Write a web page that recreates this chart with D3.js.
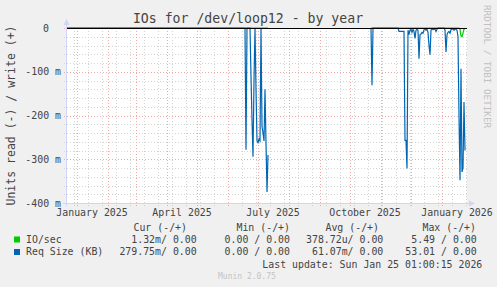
<!DOCTYPE html>
<html>
<head>
<meta charset="utf-8">
<script src="https://cdn.jsdelivr.net/npm/d3@7/dist/d3.min.js"></script>
<style>
body{margin:0;background:#f0f0f0;}
svg{display:block;}
text{font-family:"DejaVu Sans Mono",monospace;}
</style>
</head>
<body>
<svg width="497" height="287"></svg>
<script>
// daily samples (only where something changes), values in milli-units
var days = ["2024-12-22","2025-06-17","2025-06-18","2025-06-19","2025-06-20","2025-06-23","2025-06-24","2025-06-25",
  "2025-06-26","2025-06-27","2025-06-28","2025-06-29","2025-06-30","2025-07-01","2025-07-02","2025-07-03","2025-07-04",
  "2025-07-05","2025-07-06","2025-07-07","2025-07-08","2025-07-09","2025-07-10","2025-07-11","2025-07-12",
  "2025-10-22","2025-10-23","2025-10-24","2025-11-18","2025-11-19","2025-11-24","2025-11-25","2025-11-26","2025-11-27",
  "2025-11-28","2025-11-29","2025-11-30","2025-12-01","2025-12-02","2025-12-03","2025-12-04","2025-12-05","2025-12-06",
  "2025-12-07","2025-12-08","2025-12-09","2025-12-10","2025-12-11","2025-12-12","2025-12-13","2025-12-14","2025-12-15",
  "2025-12-16","2025-12-17","2025-12-18","2025-12-19","2025-12-20","2025-12-21","2025-12-22","2025-12-23","2025-12-24",
  "2025-12-25","2025-12-26","2025-12-27","2025-12-28","2026-01-03","2026-01-04","2026-01-05","2026-01-06","2026-01-07",
  "2026-01-08","2026-01-09","2026-01-10","2026-01-11","2026-01-12","2026-01-13","2026-01-14","2026-01-15","2026-01-16",
  "2026-01-17","2026-01-18","2026-01-19","2026-01-20","2026-01-21","2026-01-22","2026-01-23","2026-01-24"];
var reqSizeRead = [0,0,0,-278,0,0,-110,-210,
  -294,-120,0,-140,-258,-262,-254,-258,0,
  -225,-240,-258,-140,-262,-375,-290,null,
  0,-131,0,0,-7.5,-7.5,-257,-257,-321,
  -5,-15,-5,-3,-10,-3,-8,-24,-5,
  -3,-5,-70,-15,-14,-10,-12,-4,-2,
  -5,-3,-10,-40,-61,-5,-2,-4,-2,
  -3,-8,-3,0,0,-5,-55,-15,-10,
  -8,-12,-4,-3,-2,-5,-2,-3,-5,
  -20,-200,-348,-93,-329,-320,-169,-280];
var ioRead = [0,0,0,0,0,0,0,0,
  0,0,0,0,0,0,0,0,0,
  0,0,0,0,0,0,0,null,
  0,0,0,0,0,0,0,0,0,
  0,0,0,0,0,0,0,0,0,
  0,0,0,0,0,0,0,0,0,
  0,0,0,0,0,0,0,0,0,
  0,0,0,0,0,0,0,0,0,
  0,0,0,0,0,0,0,0,0,
  0,0,-3,-18,-20,-12,-3,0];

var yTicks = [0,-100,-200,-300,-400];
var monthLabels = ["2025-01-01","2025-04-01","2025-07-01","2025-10-01","2026-01-01"];

var seriesNames = ["IO/sec","Req Size (KB)"];
var legendHead = ["Cur (-/+)","Min (-/+)","Avg (-/+)","Max (-/+)"];
var curText = ["1.32m/ 0.00","279.75m/ 0.00"];
var minText = ["0.00 / 0.00","0.00 / 0.00"];
var avgText = ["378.72u/ 0.00","61.07m/ 0.00"];
var maxText = ["5.49 / 0.00","53.01 / 0.00"];

var svg = d3.select("svg");
var parse = d3.utcParse("%Y-%m-%d");
var plot = {left:67,right:467,top:28,bottom:203};
var colors = ["#00cc00","#0066b3"];

var x = d3.scaleUtc()
  .domain([parse("2024-12-22"), parse("2026-01-26")])
  .range([plot.left, plot.right]);
var y = d3.scaleLinear()
  .domain([-400, 0])
  .range([plot.bottom, plot.top]);

// canvas
svg.append("rect").attr("x",plot.left).attr("y",plot.top)
  .attr("width",plot.right-plot.left).attr("height",plot.bottom-plot.top+1)
  .attr("fill","#fff");

var grid = svg.append("g").attr("shape-rendering","crispEdges");

// minor horizontal every 20m
d3.range(-400, 1, 20).forEach(function(v){
  if (v % 100 === 0) return;
  grid.append("line").attr("x1",plot.left-3).attr("x2",plot.right)
    .attr("y1",Math.round(y(v))+0.5).attr("y2",Math.round(y(v))+0.5)
    .attr("stroke","#d4d4d4").attr("stroke-dasharray","1,2");
});
// minor vertical, every other sunday
d3.utcSunday.range(x.domain()[0], x.domain()[1]).forEach(function(d,i){
  if (i % 2 !== 1) return;
  var px = Math.round(x(d))+0.5;
  grid.append("line").attr("x1",px).attr("x2",px)
    .attr("y1",plot.top).attr("y2",plot.bottom+3)
    .attr("stroke","#d4d4d4").attr("stroke-dasharray","1,2");
});
// major vertical, month starts
d3.utcMonth.range(x.domain()[0], x.domain()[1]).forEach(function(d){
  var px = Math.round(x(d))+0.5;
  grid.append("line").attr("x1",px).attr("x2",px)
    .attr("y1",plot.top).attr("y2",plot.bottom+3)
    .attr("stroke","#f0a8a8").attr("stroke-dasharray","1,2");
});
// major horizontal
yTicks.forEach(function(v){
  grid.append("line").attr("x1",plot.left-3).attr("x2",plot.right)
    .attr("y1",Math.round(y(v))+0.5).attr("y2",Math.round(y(v))+0.5)
    .attr("stroke","#f0a8a8").attr("stroke-dasharray","1,2");
});

// data lines
function rows(vals){
  return days.map(function(d,i){ return {t:parse(d), v:vals[i]}; });
}
var line = d3.line()
  .defined(function(d){ return d.v !== null; })
  .x(function(d){ return x(d.t); })
  .y(function(d){ return y(d.v); });

[ioRead, reqSizeRead].forEach(function(vals,i){
  svg.append("path").datum(rows(vals))
    .attr("d",line).attr("fill","none")
    .attr("stroke",colors[i]).attr("stroke-width",1.2);
});

// zero line at top
svg.append("line").attr("x1",plot.left).attr("x2",plot.right)
  .attr("y1",plot.top+0.5).attr("y2",plot.top+0.5)
  .attr("stroke","#000").attr("shape-rendering","crispEdges");

// axes with arrows
var axisCol = "#cfd6f8";
svg.append("line").attr("x1",plot.left-0.5).attr("x2",plot.left-0.5)
  .attr("y1",plot.top-5).attr("y2",plot.bottom+3)
  .attr("stroke",axisCol).attr("shape-rendering","crispEdges");
svg.append("line").attr("x1",plot.left-4).attr("x2",plot.right+3)
  .attr("y1",plot.bottom+0.5).attr("y2",plot.bottom+0.5)
  .attr("stroke",axisCol).attr("shape-rendering","crispEdges");
svg.append("path").attr("d","M"+(plot.left-3.5)+","+(plot.top-3)+"L"+(plot.left-0.5)+","+(plot.top-9)+"L"+(plot.left+2.5)+","+(plot.top-3)+"Z")
  .attr("fill",axisCol);
svg.append("path").attr("d","M"+(plot.right+2)+","+(plot.bottom-2.5)+"L"+(plot.right+8)+","+(plot.bottom+0.5)+"L"+(plot.right+2)+","+(plot.bottom+3.5)+"Z")
  .attr("fill",axisCol);

var txt = "#444";

// y tick labels
yTicks.forEach(function(v){
  svg.append("text")
    .attr("x", v === 0 ? 49 : 61)
    .attr("y", y(v)+3.5)
    .attr("text-anchor","end")
    .attr("font-size",9.9).attr("fill",txt)
    .text(v === 0 ? "0" : v + " m");
});

// x month labels, centred half a month after the tick
monthLabels.forEach(function(m){
  var t = d3.utcDay.offset(parse(m), 15);
  svg.append("text")
    .attr("x", x(t)).attr("y", 215.5)
    .attr("text-anchor","middle")
    .attr("font-size",9.9).attr("fill",txt)
    .text(d3.utcFormat("%B %Y")(parse(m)));
});

// title
svg.append("text").attr("x",248).attr("y",23)
  .attr("text-anchor","middle").attr("font-size",13.2).attr("fill","#444")
  .text("IOs for /dev/loop12 - by year");

// vertical label
svg.append("text")
  .attr("transform","translate(14.5,115.5) rotate(-90)")
  .attr("text-anchor","middle").attr("font-size",11.5).attr("fill",txt)
  .text("Units read (-) / write (+)");

svg.append("text")
  .attr("transform","translate(484,5) rotate(90)")
  .attr("text-anchor","start").attr("font-size",9.3).attr("fill","#c0c0c0")
  .text("RRDTOOL / TOBI OETIKER");

// legend
var headEnds = [187,290,379,476];
legendHead.forEach(function(h,i){
  svg.append("text").attr("x",headEnds[i]).attr("y",231)
    .attr("text-anchor","end").attr("font-size",9.9).attr("fill",txt).text(h);
});
var colEnds = [196.7,290,383.3,476.7];
seriesNames.forEach(function(name,i){
  var by = 242.5 + i*12.5;
  svg.append("rect").attr("x",14).attr("y",by-6).attr("width",6).attr("height",6)
    .attr("fill",colors[i]);
  svg.append("text").attr("x",26).attr("y",by)
    .attr("font-size",9.9).attr("fill",txt).text(name);
  [curText,minText,avgText,maxText].forEach(function(col,j){
    svg.append("text").attr("x",colEnds[j]).attr("y",by)
      .attr("text-anchor","end").attr("font-size",9.9).attr("fill",txt)
      .text(col[i]);
  });
});

svg.append("text").attr("x",482.3).attr("y",267.5)
  .attr("text-anchor","end").attr("font-size",9.9).attr("fill",txt)
  .text("Last update: Sun Jan 25 01:00:15 2026");

svg.append("text").attr("x",218).attr("y",279)
  .attr("font-size",8).attr("fill","#c4c4c4")
  .text("Munin 2.0.75");
</script>
</body>
</html>
